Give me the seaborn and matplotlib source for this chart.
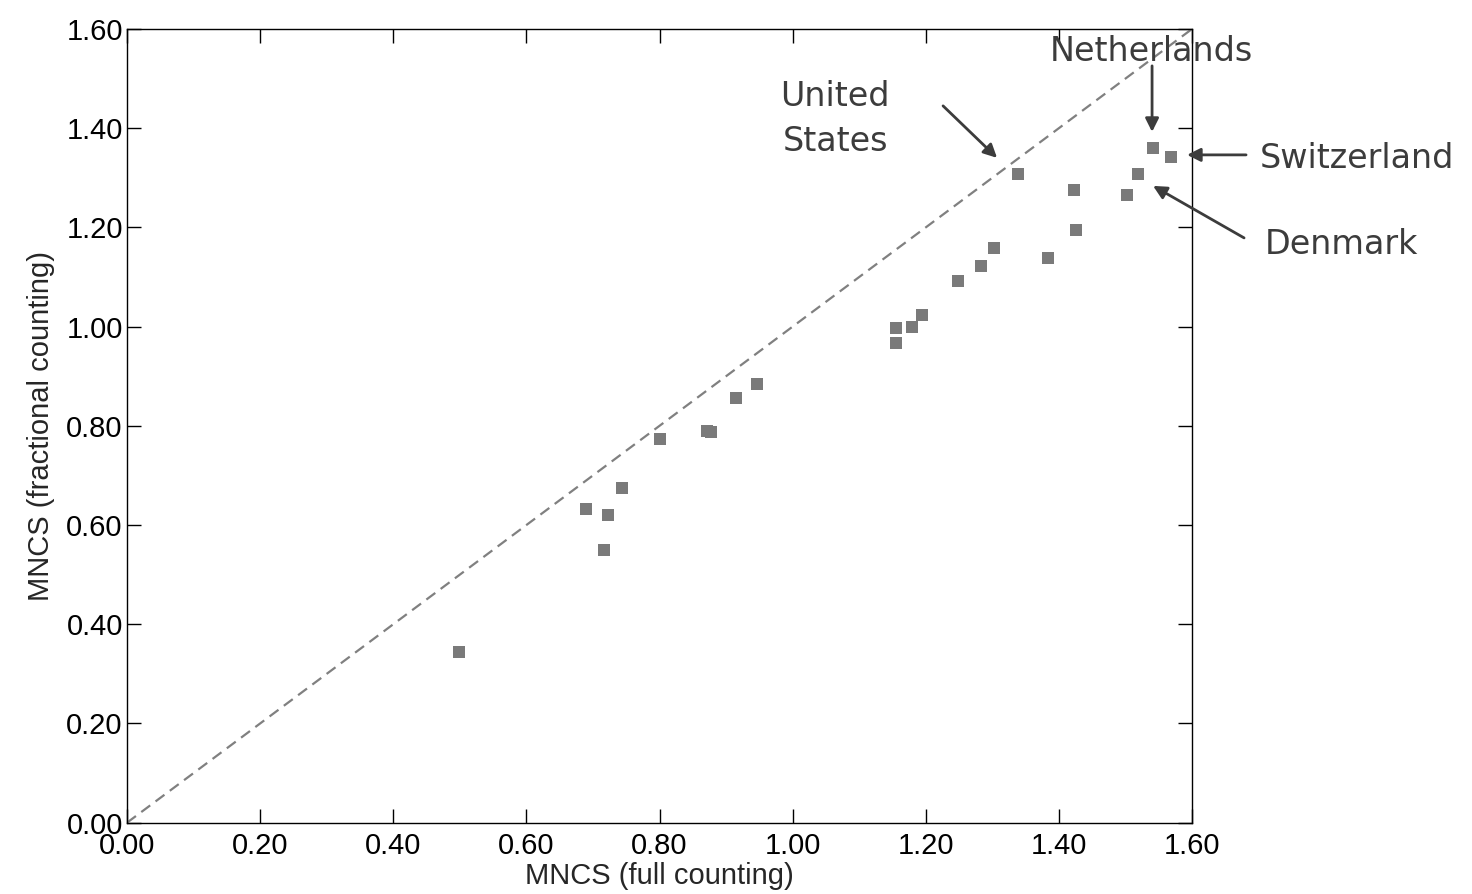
import matplotlib
matplotlib.use("Agg")
import matplotlib.pyplot as plt
import seaborn as sns
import pandas as pd

# MNCS values per country (full counting vs fractional counting)
mncs_full = [0.499, 0.689, 0.723, 0.716, 0.743, 0.801, 0.871, 0.878, 0.915, 0.947,
             1.156, 1.156, 1.179, 1.194, 1.248, 1.283, 1.302, 1.339, 1.383, 1.422,
             1.426, 1.503, 1.519, 1.542, 1.568]
mncs_frac = [0.344, 0.632, 0.621, 0.549, 0.675, 0.774, 0.790, 0.788, 0.857, 0.885,
             0.997, 0.967, 0.999, 1.024, 1.091, 1.123, 1.158, 1.308, 1.139, 1.275,
             1.195, 1.266, 1.308, 1.360, 1.342]
ticks = [0.0, 0.2, 0.4, 0.6, 0.8, 1.0, 1.2, 1.4, 1.6]
tick_labels = ["0.00", "0.20", "0.40", "0.60", "0.80", "1.00", "1.20", "1.40", "1.60"]

ann_labels = ["United\nStates", "Netherlands", "Switzerland", "Denmark"]

df = pd.DataFrame({"full": mncs_full, "frac": mncs_frac})

sns.set_theme(style="ticks")
plt.rcParams["font.family"] = ["Liberation Sans", "DejaVu Sans"]

fig = plt.figure(figsize=(14.72, 8.94), dpi=100)
ax = fig.add_axes([0.0863, 0.0798, 0.7235, 0.8878])

ax.axline((0, 0), slope=1, color="#808080", lw=1.6, dashes=(5, 3), zorder=1)
sns.scatterplot(data=df, x="full", y="frac", marker="s", s=80, color="#7a7a7a",
                linewidth=0, ax=ax, zorder=3)

ax.set_xlim(0, 1.6)
ax.set_ylim(0, 1.6)
ax.set_xticks(ticks)
ax.set_xticklabels(tick_labels)
ax.set_yticks(ticks)
ax.set_yticklabels(tick_labels)
ax.tick_params(direction="in", length=10, width=1, top=True, right=True,
               labelsize=21, colors="black", pad=3)
ax.tick_params(axis="x", pad=7)
for sp in ax.spines.values():
    sp.set_color("black")
    sp.set_linewidth(1.0)
    sp.set_visible(True)
ax.set_xlabel("MNCS (full counting)", fontsize=21, labelpad=1)
ax.set_ylabel("MNCS (fractional counting)", fontsize=21, labelpad=8)

tkw = dict(fontsize=24, color="#3c3c3c", family="DejaVu Sans")
arrow = dict(arrowstyle="-|>", color="#3c3c3c", lw=2, mutation_scale=20,
             shrinkA=0, shrinkB=0)

def px2d(px, py):
    return ((px - 127) / 665.6, (822.7 - py) / 496.0)

# United States
ax.annotate("", xy=px2d(997, 158), xytext=px2d(943, 106), arrowprops=arrow,
            annotation_clip=False)
ax.text(*px2d(835, 119), ann_labels[0], ha="center", va="center",
        linespacing=1.45, **tkw)
# Netherlands
ax.annotate("", xy=px2d(1152, 132), xytext=px2d(1152, 66), arrowprops=arrow,
            annotation_clip=False)
ax.text(*px2d(1151, 52), ann_labels[1], ha="center", va="center", **tkw)
# Switzerland
ax.annotate("", xy=px2d(1187, 155), xytext=px2d(1246, 155), arrowprops=arrow,
            annotation_clip=False)
ax.text(*px2d(1260, 159), ann_labels[2], ha="left", va="center", **tkw)
# Denmark
ax.annotate("", xy=px2d(1153, 186), xytext=px2d(1244, 238), arrowprops=arrow,
            annotation_clip=False)
ax.text(*px2d(1265, 245), ann_labels[3], ha="left", va="center", **tkw)

fig.savefig("out.png", dpi=100, facecolor="white")
